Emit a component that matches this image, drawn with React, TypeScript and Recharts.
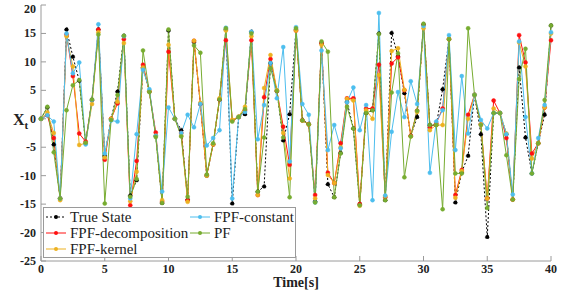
import React from 'react';
import { LineChart, Line, XAxis, YAxis, Legend } from 'recharts';

// time axis, step 0.5 s
const time = [
    0, 0.5, 1, 1.5, 2, 2.5, 3, 3.5, 4, 4.5,
    5, 5.5, 6, 6.5, 7, 7.5, 8, 8.5, 9, 9.5,
    10, 10.5, 11, 11.5, 12, 12.5, 13, 13.5, 14, 14.5,
    15, 15.5, 16, 16.5, 17, 17.5, 18, 18.5, 19, 19.5,
    20, 20.5, 21, 21.5, 22, 22.5, 23, 23.5, 24, 24.5,
    25, 25.5, 26, 26.5, 27, 27.5, 28, 28.5, 29, 29.5,
    30, 30.5, 31, 31.5, 32, 32.5, 33, 33.5, 34, 34.5,
    35, 35.5, 36, 36.5, 37, 37.5, 38, 38.5, 39, 39.5,
    40,
];

const trueState = [
    0, 2.0, -4.5, -14.0, 15.7, 10.9, 6.7, -4.3, 3.3, 15.7,
    -6.5, 0, 4.8, 14.6, -13.5, -10.8, 9.0, 4.8, -3.0, -14.8,
    15.5, 0, -2.0, -14.2, 13.5, 2.6, -10.0, -4.5, 3.4, 15.7,
    -14.9, 0.3, 0.8, 15.3, -12.8, -11.9, 9.8, 4.9, -3.8, 0.8,
    15.7, -0.2, -0.9, -14.5, 13.3, -11.5, -13.8, -6.0, 3.0, -1.7,
    -15.0, 1.0, 1.5, 15.0, -14.3, 15.1, 11.0, 4.5, -3.0, 0.3,
    16.6, -1.1, -1.1, 5.2, 14.0, -14.7, -9.4, -6.5, 4.2, -2.7,
    -20.8, 1.0, 1.0, -2.7, -14.2, 9.0, -3.3, -9.6, -4.3, 0.7,
    16.4,
];

const fpfDecomposition = [
    0, 0.6, -3.4, -14.0, 14.8, 7.5, -2.6, -4.0, 3.3, 15.7,
    -7.2, 0, 2.7, 14.0, -15.2, -7.4, 9.5, 4.8, -2.4, -14.6,
    11.8, 0, -2.5, -14.3, 13.7, 2.6, -9.9, -4.5, 3.4, 13.8,
    -0.3, 0.3, 1.5, 13.8, -13.4, 3.8, 10.5, 4.9, -1.4, -8.1,
    15.5, -0.3, -1.0, -13.4, 13.3, -9.5, -11.3, -4.3, 3.6, 3.6,
    -15.0, 1.8, 1.8, 9.5, -13.8, 9.7, 10.8, 5.0, -3.0, 1.4,
    16.5, -1.5, -0.8, 1.8, 14.0, -13.4, -9.0, 0.7, 4.2, -1.0,
    -14.0, 3.2, 1.0, -3.4, -14.2, 14.7, 9.9, -6.1, -4.3, 2.0,
    13.8,
];

const fpfKernel = [
    0, 1.1, -2.5, -14.3, 14.5, 9.2, -4.6, -4.3, 2.6, 15.2,
    -6.8, 0, 3.0, 13.3, -14.5, -9.3, 9.0, 4.8, -3.0, -14.3,
    13.0, 0, -3.0, -14.6, 13.7, 2.8, -10.0, -4.5, 3.6, 15.5,
    -0.2, 0.4, 2.1, 14.5, -13.4, 5.4, 11.2, 5.0, -2.5, -10.5,
    15.5, -0.3, -1.0, -14.0, 13.0, -9.9, -11.3, -5.0, 3.5, 3.2,
    -15.3, 1.5, 0, 7.7, -13.6, 11.9, 12.4, 5.1, -3.1, 1.2,
    15.9, -2.0, -1.1, -1.1, 14.0, -13.9, -9.2, 0.0, 4.2, -1.0,
    -14.0, 1.8, 1.0, -2.6, -14.2, 13.4, 9.2, -7.0, -4.3, 2.0,
    15.0,
];

const fpfConstant = [
    0, 0.6, -0.5, -14.0, 15.0, 8.0, 9.9, -4.5, 3.3, 16.6,
    -6.1, -0.3, -0.5, 14.5, -14.0, -2.7, 8.6, 5.2, -3.0, -12.8,
    2.0, 0.0, -2.5, 0.7, -1.5, 2.6, -4.7, -3.4, -2.0, 16.0,
    -14.0, 0.3, 1.2, 15.3, -3.6, 2.4, 9.8, 3.6, 12.6, -7.5,
    16.1, 2.6, 0.7, -14.7, 12.0, -5.5, -1.1, -5.2, 2.9, 5.5,
    -2.0, 2.4, -14.3, 18.6, -13.5, -2.3, 4.7, 0.3, 6.6, 2.6,
    16.3, -9.5, -0.5, 1.5, 14.7, -5.5, 7.5, -2.6, 4.2, -0.2,
    -1.7, 1.0, 1.0, -2.7, -13.3, 13.6, 0.3, -9.6, -3.4, 2.4,
    15.2,
];

const pf = [
    0, 2.1, -5.9, -14.0, 1.5, 5.9, 6.8, -4.2, 3.4, 14.8,
    -14.9, -0.2, 4.2, 14.6, -13.7, -10.6, 12.0, 4.7, -3.2, -14.8,
    15.7, 0, -3.1, -13.7, 12.9, 11.6, -9.8, -4.3, 3.4, 15.9,
    -0.5, 0.3, 1.7, 15.0, -12.8, -3.3, 8.9, 4.9, -3.3, -13.8,
    15.9, -0.3, -1.0, -14.7, 13.6, 11.8, -13.8, -6.1, 2.1, -1.7,
    -15.2, 1.0, 1.5, 14.9, -14.3, 4.6, 11.5, -10.3, -3.1, 1.4,
    16.7, -1.1, -1.1, -15.9, 14.0, -9.6, -9.6, 15.9, 4.2, -1.1,
    -15.7, 1.0, 1.0, -6.4, -14.2, 7.0, 12.3, -9.6, -4.3, 3.3,
    16.4,
];

const xTicks = [0, 5, 10, 15, 20, 25, 30, 35, 40];
const yTicks = [-25, -20, -15, -10, -5, 0, 5, 10, 15, 20];

const data = time.map((t, i) => ({
    t,
    trueState: trueState[i],
    fpfDecomposition: fpfDecomposition[i],
    fpfKernel: fpfKernel[i],
    fpfConstant: fpfConstant[i],
    pf: pf[i],
}));

const serif = '"Liberation Serif", "Times New Roman", serif';
const axisColor = '#9a9a9a';
const textColor = '#222';

const series = [
    { key: 'trueState', name: 'True State', color: '#000000', dash: '2 2' },
    { key: 'fpfDecomposition', name: 'FPF-decomposition', color: '#ff1010', dash: undefined },
    { key: 'fpfKernel', name: 'FPF-kernel', color: '#edb120', dash: undefined },
    { key: 'fpfConstant', name: 'FPF-constant', color: '#4dbeee', dash: undefined },
    { key: 'pf', name: 'PF', color: '#77ac30', dash: undefined },
];

// two columns like the matlab legend
const legendSlots = [
    { left: 2, top: 1 },
    { left: 2, top: 17 },
    { left: 2, top: 33 },
    { left: 146, top: 1 },
    { left: 146, top: 17 },
];

const LegendBox = () => (
    <div style={{
        position: 'relative', width: 253, height: 51, boxSizing: 'border-box',
        background: '#fff', border: `1px solid ${axisColor}`,
        fontFamily: serif, fontSize: 15, color: textColor,
    }}>
        {series.map((s, i) => (
            <div key={s.key} style={{
                position: 'absolute', left: legendSlots[i].left, top: legendSlots[i].top,
                display: 'flex', alignItems: 'center', height: 16, whiteSpace: 'nowrap',
            }}>
                <svg width={22} height={10} style={{ marginRight: 2 }}>
                    <line x1={0} y1={5} x2={20} y2={5} stroke={s.color} strokeWidth={1} strokeDasharray={s.dash} />
                    <circle cx={10} cy={5} r={2} fill={s.color} />
                </svg>
                <span>{s.name}</span>
            </div>
        ))}
    </div>
);

const YTitle = () => (
    <text x={13} y={125} fontFamily={serif} fontWeight="bold" fontSize={16} fill={textColor}>
        X<tspan fontSize={11} dy={4}>t</tspan>
    </text>
);

const XTitle = () => (
    <text x={296} y={287} textAnchor="middle" fontFamily={serif} fontWeight="bold" fontSize={14} fill={textColor}>
        Time[s]
    </text>
);

const XTick = (props: any) => (
    <text x={props.x} y={props.y + 9} textAnchor="middle" fontFamily={serif} fontWeight="bold" fontSize={12} fill={textColor}>
        {props.payload.value}
    </text>
);

const YTick = (props: any) => (
    <text x={props.x} y={props.y + 4} textAnchor="end" fontFamily={serif} fontWeight="bold" fontSize={12} fill={textColor}>
        {props.payload.value}
    </text>
);

const App: React.FC = () => (
    <div style={{ position: 'absolute', left: 0, top: 0 }}>
        <LineChart width={568} height={290} data={data} margin={{ top: 5, right: 17, bottom: 0, left: 0 }}>
            <XAxis
                dataKey="t" type="number" domain={[0, 40]} ticks={xTicks}
                height={29} stroke={axisColor} tickSize={-5} tickMargin={8}
                tick={<XTick />} label={<XTitle />}
            />
            <XAxis
                xAxisId="top" orientation="top" dataKey="t" type="number" domain={[0, 40]}
                ticks={xTicks} height={0} stroke={axisColor} tickSize={-5} tickFormatter={() => ''}
            />
            <YAxis
                type="number" domain={[-25, 20]} ticks={yTicks} width={41}
                stroke={axisColor} tickSize={-5} tickMargin={10}
                tick={<YTick />} label={<YTitle />}
            />
            <YAxis
                yAxisId="right" orientation="right" type="number" domain={[-25, 20]}
                ticks={yTicks} width={0} stroke={axisColor} tickSize={-5} tickFormatter={() => ''}
            />
            {series.map((s) => (
                <Line
                    key={s.key}
                    dataKey={s.key}
                    name={s.name}
                    type="linear"
                    stroke={s.color}
                    strokeWidth={1}
                    strokeDasharray={s.dash}
                    dot={{ r: 2, fill: s.color, stroke: s.color, strokeWidth: 0.5 }}
                    activeDot={false}
                    isAnimationActive={false}
                />
            ))}
            <Legend
                layout="horizontal" verticalAlign="middle" align="center"
                wrapperStyle={{ left: 43, top: 207, width: 253, height: 51 }}
                content={() => <LegendBox />}
            />
        </LineChart>
    </div>
);

export default App;
